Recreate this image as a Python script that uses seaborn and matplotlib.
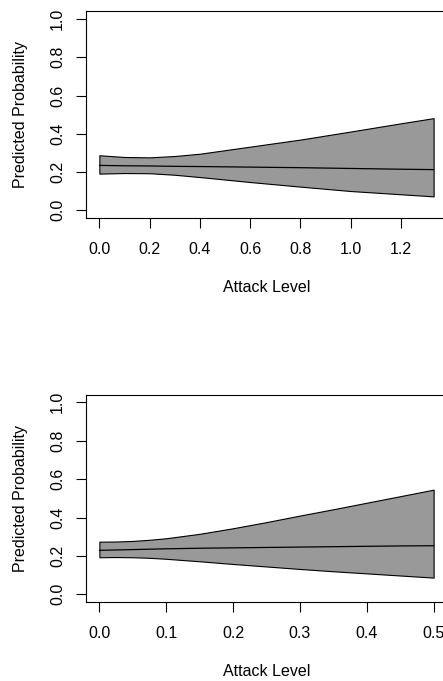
import numpy as np
import pandas as pd
import matplotlib
matplotlib.use("Agg")
import matplotlib.pyplot as plt
import seaborn as sns

# Dados (painel superior)
x_top = [0.0, 0.1, 0.2, 0.3, 0.4, 0.6, 0.8, 1.0, 1.2, 1.33]
sup_top = [0.288, 0.279, 0.277, 0.284, 0.296, 0.333, 0.370, 0.412, 0.455, 0.482]
inf_top = [0.192, 0.195, 0.194, 0.186, 0.174, 0.148, 0.124, 0.101, 0.084, 0.073]
med_top = [0.235, 0.233, 0.232, 0.230, 0.229, 0.226, 0.223, 0.219, 0.215, 0.213]

# Painel inferior
x_bot = [0.0, 0.025, 0.05, 0.075, 0.1, 0.15, 0.2, 0.25, 0.3, 0.35, 0.4, 0.45, 0.5]
sup_bot = [0.274, 0.275, 0.278, 0.284, 0.292, 0.315, 0.344, 0.376, 0.410, 0.443, 0.477, 0.511, 0.545]
inf_bot = [0.193, 0.194, 0.193, 0.190, 0.185, 0.172, 0.158, 0.145, 0.132, 0.120, 0.109, 0.098, 0.087]
med_bot = [0.229, 0.231, 0.233, 0.235, 0.237, 0.240, 0.242, 0.244, 0.246, 0.248, 0.250, 0.252, 0.253]

xticks_top = [0.0, 0.2, 0.4, 0.6, 0.8, 1.0, 1.2]
xticks_bot = [0.0, 0.1, 0.2, 0.3, 0.4, 0.5]
yticks = [0.0, 0.2, 0.4, 0.6, 0.8, 1.0]

sns.set_style("white")
plt.rcParams['font.family'] = ['Liberation Sans', 'DejaVu Sans']
plt.rcParams['font.size'] = 11.5
plt.rcParams['text.color'] = 'black'
plt.rcParams['axes.labelcolor'] = 'black'
plt.rcParams['xtick.color'] = 'black'
plt.rcParams['ytick.color'] = 'black'

fig = plt.figure(figsize=(4.43, 6.81), dpi=100)


def painel(pos, x, sup, inf, med, xticks):
    ax = fig.add_axes(pos)
    df = pd.DataFrame({'x': x, 'sup': sup, 'inf': inf, 'med': med})
    ax.fill_between(df['x'], df['inf'], df['sup'], facecolor='#999999',
                    edgecolor='black', linewidth=0.8)
    sns.lineplot(data=df, x='x', y='med', color='black', linewidth=0.9, ax=ax)
    rng = max(x) - min(x)
    ax.set_xlim(min(x) - 0.04 * rng, max(x) + 0.04 * rng)
    ax.set_ylim(-0.04, 1.04)
    ax.set_xticks(xticks)
    ax.set_xticklabels([f'{v:.1f}' for v in xticks])
    ax.set_yticks(yticks)
    ax.set_yticklabels([f'{v:.1f}' for v in yticks], rotation=90, va='center')
    ax.tick_params(direction='out', length=7.2, width=0.8, color='black',
                   labelcolor='black', labelsize=11.5, left=True, bottom=True)
    ax.tick_params(axis='x', pad=10)
    ax.tick_params(axis='y', pad=8)
    for s in ax.spines.values():
        s.set_color('black')
        s.set_linewidth(0.8)
    ax.set_xlabel('Attack Level', fontsize=11.5, labelpad=17)
    ax.set_ylabel('Predicted Probability', fontsize=11.5, labelpad=16)
    return ax


painel([86 / 443, 1 - 218 / 681, 361 / 443, 206.6 / 681],
       x_top, sup_top, inf_top, med_top, xticks_top)
painel([86 / 443, 1 - 602 / 681, 361 / 443, 207.4 / 681],
       x_bot, sup_bot, inf_bot, med_bot, xticks_bot)

fig.savefig('out.png', dpi=100)
